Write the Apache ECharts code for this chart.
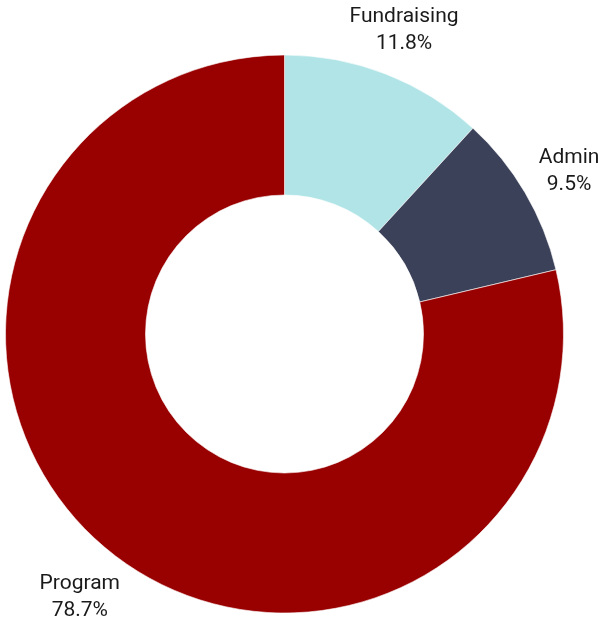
<!DOCTYPE html>
<html><head><meta charset="utf-8">
<script src="https://cdn.jsdelivr.net/npm/echarts@6/dist/echarts.min.js"></script>
<style>html,body{margin:0;padding:0;background:#fff}#c{width:611px;height:626px}</style>
</head><body><div id="c"></div>
<script>
const categories = ['Fundraising', 'Admin', 'Program'];
const values = [11.8, 9.5, 78.7];
const colors = ['#b0e4e6', '#3b4159', '#990000'];

const data = categories.map((c, i) => ({ name: c, value: values[i], itemStyle: { color: colors[i] } }));
const chart = echarts.init(document.getElementById('c'));
chart.setOption({
  animation: false,
  series: [
    {
      type: 'pie', center: [284.5, 334], radius: [139, 279], startAngle: 90, clockwise: true,
      data: data, label: { show: false }, labelLine: { show: false },
      itemStyle: { borderColor: '#fff', borderWidth: 0.6 }, silent: true
    },
    {
      type: 'pie', center: [284.5, 334], radius: [279, 375], startAngle: 90, clockwise: true,
      data: data.map(d => ({ name: d.name, value: d.value, itemStyle: { color: 'rgba(0,0,0,0)' } })),
      silent: true, labelLine: { show: false },
      label: {
        show: true, position: 'inside', color: '#1a1a1a', fontFamily: 'Roboto', fontSize: 21,
        lineHeight: 27, align: 'center', offset: [0, 4],
        formatter: p => p.name + '\n' + p.value.toFixed(1) + '%'
      }
    }
  ]
});
</script></body></html>
